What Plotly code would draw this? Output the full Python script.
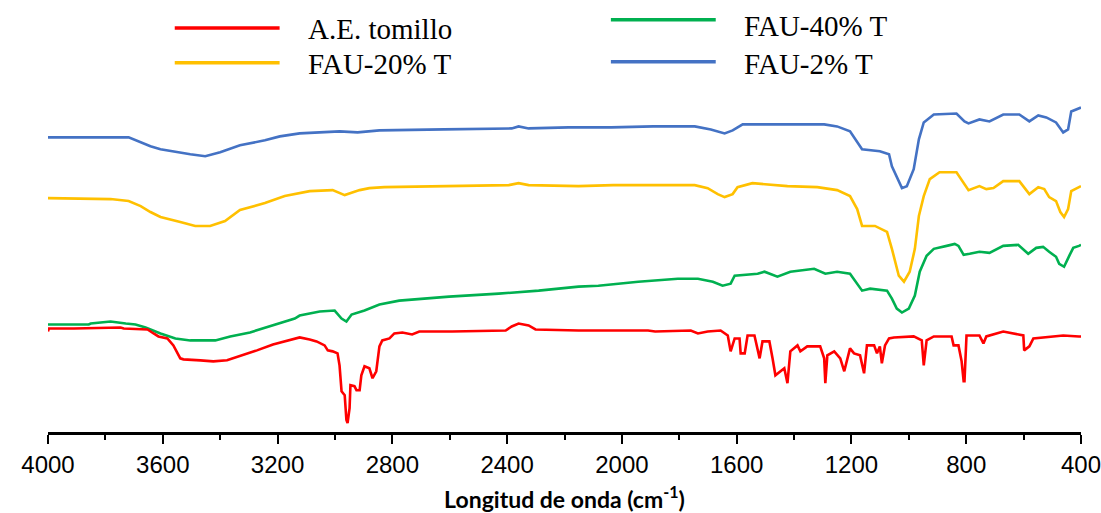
import plotly.graph_objects as go

# FTIR spectra (transmittance, arbitrary units, stacked offsets)
wn_tomillo = [4000, 3997, 3910, 3747, 3736, 3653, 3632, 3615, 3584, 3563, 3539, 3528, 3469, 3424,
              3376, 3331, 3272, 3216, 3157, 3123, 3088, 3064, 3036, 3025, 3008, 2991, 2984, 2977,
              2966, 2960, 2956, 2949, 2946, 2932, 2925, 2914, 2908, 2897, 2880, 2869, 2856, 2845,
              2835, 2810, 2793, 2765, 2731, 2706, 2592, 2405, 2384, 2360, 2325, 2301, 2151, 1909,
              1884, 1760, 1735, 1701, 1656, 1631, 1621, 1607, 1590, 1586, 1572, 1562, 1538, 1520,
              1510, 1486, 1475, 1465, 1434, 1423, 1413, 1388, 1378, 1354, 1309, 1295, 1291, 1284,
              1260, 1239, 1225, 1205, 1191, 1170, 1156, 1146, 1121, 1111, 1101, 1094, 1083, 1069,
              1052, 983, 955, 948, 938, 913, 851, 844, 827, 816, 809, 806, 799, 754, 740, 730, 671,
              601, 598, 580, 566, 532, 462, 407, 400]
t_tomillo = [100, 103, 103, 104, 103, 102, 98, 95, 93, 86, 73, 72, 71, 70,
             71, 75, 81, 87, 91, 94, 92, 90, 86, 81, 80, 78, 66, 40,
             36, 11, 8, 23, 46, 45, 41, 41, 56, 65, 63, 53, 60, 85,
             91, 93, 98, 99, 97, 100, 100, 101, 105, 108, 106, 102, 101, 101,
             100, 101, 98, 100, 101, 96, 80, 93, 93, 78, 78, 96, 96, 73,
             90, 90, 73, 56, 63, 48, 80, 86, 80, 85, 85, 73, 48, 76,
             80, 73, 60, 83, 78, 76, 58, 86, 86, 78, 85, 68, 86, 93,
             94, 95, 91, 66, 91, 95, 95, 86, 86, 70, 50, 50, 96, 96, 88, 95, 100,
             96, 81, 85, 93, 94, 96, 95, 95]

wn_fau20 = [4000, 3782, 3719, 3677, 3643, 3608, 3539, 3487, 3435, 3383, 3331, 3244, 3175, 3088,
            3008, 2966, 2914, 2880, 2828, 2654, 2394, 2360, 2325, 2151, 2030, 1746, 1701, 1666,
            1642, 1614, 1597, 1545, 1493, 1423, 1319, 1250, 1205, 1180, 1163, 1118, 1076, 1059,
            1035, 1017, 997, 979, 965, 948, 927, 893, 834, 809, 792, 754, 730, 705, 671, 615,
            580, 549, 528, 511, 487, 472, 459, 445, 434, 407, 400]
t_fau20 = [234, 233, 231, 226, 220, 215, 210, 206, 206, 211, 222, 229, 236, 241,
           242, 237, 242, 244, 245, 246, 247, 249, 247, 246, 247, 247, 244, 238,
           235, 238, 245, 249, 248, 246, 245, 242, 236, 223, 206, 206, 200, 183,
           156, 150, 160, 183, 216, 236, 253, 260, 260, 250, 242, 246, 243, 244, 251, 251,
           238, 245, 243, 235, 231, 220, 215, 223, 241, 245, 246]

wn_fau40 = [4000, 3858, 3851, 3782, 3729, 3695, 3660, 3608, 3556, 3504, 3417, 3365, 3296, 3209,
            3140, 3123, 3053, 3001, 2977, 2960, 2942, 2897, 2845, 2776, 2602, 2429, 2290, 2151,
            2082, 1943, 1805, 1735, 1683, 1649, 1621, 1607, 1527, 1503, 1458, 1413, 1330, 1291,
            1250, 1205, 1187, 1163, 1135, 1076, 1059, 1042, 1024, 1000, 979, 962, 938, 913, 868,
            840, 827, 809, 788, 754, 719, 671, 619, 584, 556, 532, 511, 487, 476, 459, 441, 427,
            407, 400]
t_fau40 = [107, 107, 108, 110, 108, 107, 104, 98, 93, 91, 91, 95, 99, 107,
           113, 116, 120, 121, 113, 110, 117, 121, 127, 131, 135, 138, 141, 145,
           146, 150, 153, 153, 150, 146, 148, 156, 158, 160, 155, 160, 163, 158,
           160, 158, 151, 141, 143, 141, 133, 123, 119, 123, 136, 160, 176, 183, 186,
           188, 186, 177, 178, 180, 179, 186, 187, 178, 184, 185, 180, 175, 168, 165, 176, 184,
           186, 187]

wn_fau2 = [4000, 3719, 3643, 3608, 3504, 3452, 3400, 3331, 3244, 3192, 3123, 3053, 2984, 2921,
           2845, 2620, 2384, 2360, 2325, 2186, 2037, 1891, 1746, 1690, 1642, 1614, 1579, 1295,
           1250, 1205, 1163, 1101, 1069, 1059, 1042, 1024, 1007, 983, 965, 948, 913, 834, 806,
           792, 754, 719, 671, 615, 580, 549, 521, 487, 462, 445, 434, 407, 400]
t_fau2 = [295, 295, 286, 283, 278, 276, 280, 287, 292, 296, 299, 300, 301, 300,
          302, 303, 304, 306, 304, 305, 305, 306, 306, 303, 299, 302, 308, 308,
          306, 301, 283, 281, 278, 266, 255, 244, 246, 263, 293, 310, 318, 319, 311,
          309, 313, 311, 318, 318, 311, 317, 315, 310, 300, 303, 321, 324, 325]

series = [
    ("FAU-2% T", wn_fau2, t_fau2, "#4472C4"),
    ("FAU-20% T", wn_fau20, t_fau20, "#FFC000"),
    ("FAU-40% T", wn_fau40, t_fau40, "#00B050"),
    ("A.E. tomillo", wn_tomillo, t_tomillo, "#FF0000"),
]

x_ticks = [4000, 3600, 3200, 2800, 2400, 2000, 1600, 1200, 800, 400]

fig = go.Figure()
for name, wn, t, color in series:
    fig.add_trace(go.Scatter(x=wn, y=t, mode="lines", name=name,
                             line=dict(color=color, width=2.6), showlegend=False))

# Legend drawn as long line samples with serif labels, two columns
legend_items = [
    ("A.E. tomillo", "#FF0000", 0.1227, 0.2242, 0.935, 0.2493, 0.934),
    ("FAU-20% T", "#FFC000", 0.1227, 0.2242, 0.855, 0.2493, 0.851),
    ("FAU-40% T", "#00B050", 0.5449, 0.6464, 0.954, 0.6715, 0.940),
    ("FAU-2% T", "#4472C4", 0.5449, 0.6464, 0.857, 0.6715, 0.853),
]
for label, color, x0, x1, ly, tx, ty in legend_items:
    fig.add_shape(type="line", xref="paper", yref="paper", x0=x0, x1=x1, y0=ly, y1=ly,
                  line=dict(color=color, width=3.5))
    fig.add_annotation(xref="paper", yref="paper", x=tx, y=ty, text=label, showarrow=False,
                       xanchor="left", yanchor="middle",
                       font=dict(family="Liberation Serif", size=29, color="black"))

fig.update_layout(
    width=1101, height=513,
    margin=dict(l=48, r=18, t=0, b=79),
    paper_bgcolor="white", plot_bgcolor="white",
    xaxis=dict(
        range=[4000, 400], tickvals=x_ticks, ticktext=[str(v) for v in x_ticks],
        ticklabeloverflow="allow",
        showgrid=False, zeroline=False, showline=True, linecolor="black", linewidth=2.5,
        ticks="outside", ticklen=9, tickwidth=2, tickcolor="black",
        minor=dict(dtick=200, tick0=0, ticks="outside", ticklen=5, tickwidth=2, tickcolor="black"),
        tickfont=dict(family="Liberation Sans", size=24, color="black"),
        title=dict(text="<b>Longitud de onda (cm<sup>-1</sup>)</b>",
                   font=dict(family="Lato", size=23, color="black"), standoff=19),
    ),
    yaxis=dict(range=[-1, 433], visible=False, showgrid=False, zeroline=False),
)

fig.write_html("out.html")
